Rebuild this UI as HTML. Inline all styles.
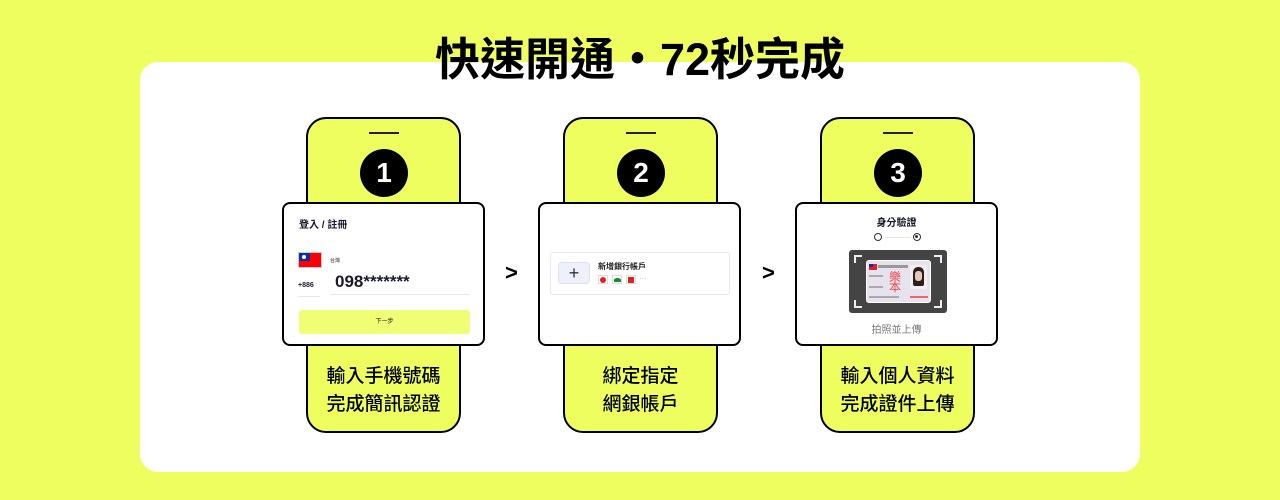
<!DOCTYPE html>
<html><head><meta charset="utf-8">
<style>
*{margin:0;padding:0;box-sizing:border-box}
body{width:1280px;height:500px;background:#effe5f;position:relative;overflow:hidden;font-family:"Liberation Sans","Noto Sans CJK TC",sans-serif;color:#000}
.card{position:absolute;left:140px;top:62px;width:1000px;height:410px;background:#fff;border-radius:18px}
.title{position:absolute;left:0;width:1280px;top:30px;text-align:center;font-size:45px;font-weight:bold;line-height:60px;letter-spacing:0px}
.phone{position:absolute;top:117px;width:155px;height:316px;background:#effe5f;border:2px solid #000;border-radius:20px}
.bar{position:absolute;left:61px;top:13px;width:30px;height:2px;background:#222}
.num{position:absolute;left:52px;top:30px;width:48px;height:48px;border-radius:50%;background:#000;color:#fff;font-weight:bold;font-size:28px;line-height:48px;text-align:center}
.cap{position:absolute;left:0;width:151px;top:244px;text-align:center;font-size:19px;line-height:28px;color:#000;font-weight:500}
.scr{position:absolute;top:202px;width:203px;height:144px;background:#fff;border:2px solid #000;border-radius:8px}
.arrow{position:absolute;top:260px;font-size:22px;font-weight:bold}
</style></head><body>
<div class="card"></div>
<div class="title">快速開通・72秒完成</div>

<div class="phone" style="left:306px"><div class="bar"></div><div class="num">1</div><div class="cap">輸入手機號碼<br>完成簡訊認證</div></div>
<div class="phone" style="left:563px"><div class="bar"></div><div class="num">2</div><div class="cap" style="top:244px">綁定指定<br>網銀帳戶</div></div>
<div class="phone" style="left:820px"><div class="bar"></div><div class="num">3</div><div class="cap">輸入個人資料<br>完成證件上傳</div></div>

<div class="arrow" style="left:505px">&gt;</div>
<div class="arrow" style="left:762px">&gt;</div>

<!-- screen 1 -->
<div class="scr" style="left:282px">
  <div style="position:absolute;left:15px;top:12px;font-size:10px;font-weight:bold;color:#1a1a2e">登入 / 註冊</div>
  <div style="position:absolute;left:14px;top:48px;width:24px;height:16px;background:#f00;border:1px solid #ccc">
    <div style="width:11px;height:8px;background:#0a2fa8;position:relative"><div style="position:absolute;left:3px;top:2px;width:4px;height:4px;border-radius:50%;background:#fff"></div></div>
  </div>
  <div style="position:absolute;left:46px;top:53px;font-size:5px;color:#222">台灣</div>
  <div style="position:absolute;left:14px;top:78px;font-size:7px;font-weight:bold;color:#1a1a2e">+886</div>
  <div style="position:absolute;left:14px;top:92px;width:22px;height:1px;background:#e4e6ef"></div>
  <div style="position:absolute;left:51px;top:68px;font-size:17px;font-weight:bold;color:#1a1a2e">098*******</div>
  <div style="position:absolute;left:46px;top:90px;width:140px;height:1px;background:#e4e6ef"></div>
  <div style="position:absolute;left:15px;top:106px;width:171px;height:24px;background:#effe75;border-radius:3px;text-align:center;font-size:6px;line-height:24px;color:#222">下一步</div>
</div>

<!-- screen 2 -->
<div class="scr" style="left:538px">
  <div style="position:absolute;left:10px;top:48px;width:180px;height:43px;border:1px solid #e6e8f2;border-radius:3px">
    <div style="position:absolute;left:7px;top:9px;width:32px;height:22px;background:#eef0fb;border:1px solid #dde0f0;border-radius:4px;text-align:center;line-height:20px;font-size:18px;color:#333">+</div>
    <div style="position:absolute;left:47px;top:8px;font-size:8px;font-weight:bold;color:#222">新增銀行帳戶</div>
    <div style="position:absolute;left:47px;top:22px;width:10px;height:9px;border:1px solid #ddd;background:#fff"><div style="margin:1px auto;width:6px;height:6px;border-radius:50%;background:#d22"></div></div>
    <div style="position:absolute;left:61px;top:22px;width:10px;height:9px;border:1px solid #ddd;background:#fff"><div style="margin:2px auto;width:7px;height:4px;border-radius:50% 50% 0 0;background:#1a8a3a"></div></div>
    <div style="position:absolute;left:75px;top:22px;width:10px;height:9px;border:1px solid #ddd;background:#fff"><div style="margin:1px auto;width:6px;height:6px;background:#d22"></div></div>
    <div style="position:absolute;left:88px;top:22px;font-size:8px;color:#bbb;line-height:8px">···</div>
  </div>
</div>

<!-- screen 3 -->
<div class="scr" style="left:795px">
  <div style="position:absolute;left:0;width:199px;top:10px;text-align:center;font-size:10px;font-weight:bold;color:#1a1a2e">身分驗證</div>
  <div style="position:absolute;left:77px;top:29px;width:8px;height:8px;border:1.5px solid #333;border-radius:50%"></div>
  <div style="position:absolute;left:88px;top:33px;width:26px;height:1px;background:#e4e6ef"></div>
  <div style="position:absolute;left:116px;top:29px;width:8px;height:8px;border:1.5px solid #333;border-radius:50%"><div style="margin:1px;width:3px;height:3px;border-radius:50%;background:#333"></div></div>
  <div style="position:absolute;left:52px;top:46px;width:98px;height:63px;background:#444;border-radius:3px">
    <div style="position:absolute;left:5px;top:5px;width:8px;height:8px;border-left:2px solid #eee;border-top:2px solid #eee"></div>
    <div style="position:absolute;right:5px;top:5px;width:8px;height:8px;border-right:2px solid #eee;border-top:2px solid #eee"></div>
    <div style="position:absolute;left:5px;bottom:5px;width:8px;height:8px;border-left:2px solid #eee;border-bottom:2px solid #eee"></div>
    <div style="position:absolute;right:5px;bottom:5px;width:8px;height:8px;border-right:2px solid #eee;border-bottom:2px solid #eee"></div>
    <div style="position:absolute;left:17px;top:10px;width:65px;height:43px;background:#e6e3ee;border:1.5px solid #fff;border-radius:3px;overflow:hidden">
      <div style="position:absolute;left:2px;top:3px;width:8px;height:6px;background:#d22"><div style="width:4px;height:3px;background:#0a2fa8"></div></div>
      <div style="position:absolute;left:11px;top:4px;width:30px;height:3px;background:#999"></div>
      <div style="position:absolute;left:22px;top:11px;width:14px;height:20px;color:#e44;font-size:12px;line-height:10px">樂<br>本</div>
      <div style="position:absolute;left:43px;top:4px;width:17px;height:24px;background:#f3eef0"><div style="margin:2px auto;width:11px;height:19px;background:#2a2020;border-radius:5px 5px 2px 2px"><div style="margin:0 auto;width:7px;height:10px;background:#e8c8b8;border-radius:3px;position:relative;top:4px"></div></div></div>
      <div style="position:absolute;left:2px;top:14px;width:14px;height:2px;background:#aaa"></div>
      <div style="position:absolute;left:2px;top:25px;width:14px;height:2px;background:#aaa"></div>
      <div style="position:absolute;left:2px;top:35px;width:30px;height:2px;background:#aaa"></div>
      <div style="position:absolute;left:43px;top:35px;width:18px;height:2px;background:#e66"></div>
    </div>
  </div>
  <div style="position:absolute;left:0;width:199px;top:117px;text-align:center;font-size:10px;color:#777">拍照並上傳</div>
</div>
</body></html>
